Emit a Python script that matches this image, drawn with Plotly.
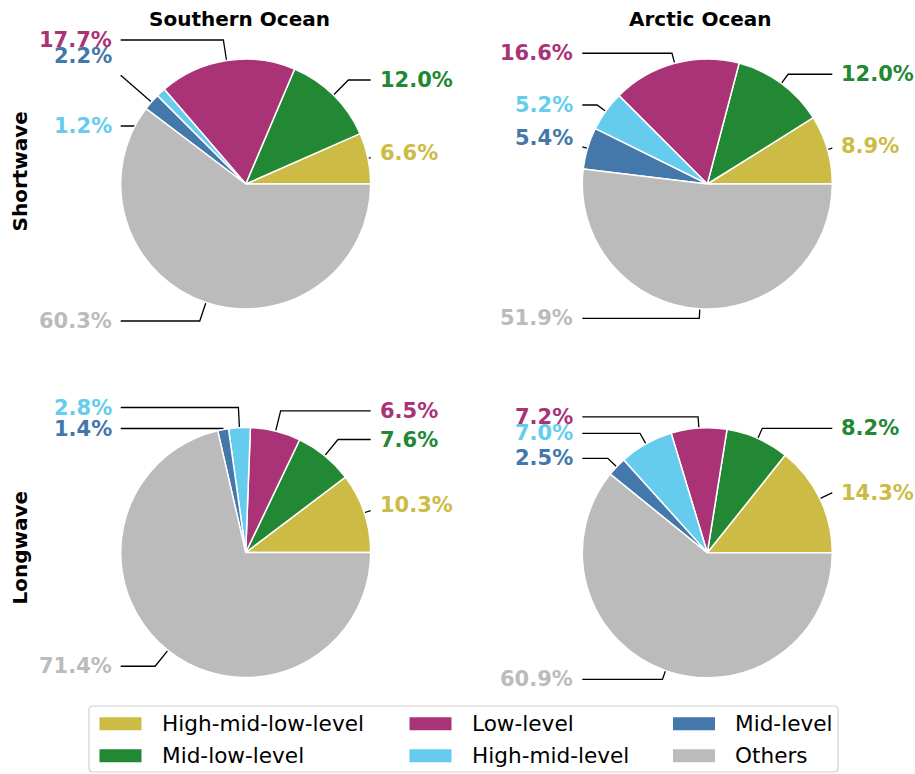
import math
import plotly.graph_objects as go

# ---------------- data ----------------
categories = ["High-mid-low-level", "Mid-low-level", "Low-level",
              "High-mid-level", "Mid-level", "Others"]
col_titles = ["Southern Ocean", "Arctic Ocean"]
row_titles = ["Shortwave", "Longwave"]

so_shortwave = [6.6, 12.0, 17.7, 1.2, 2.2, 60.3]
ao_shortwave = [8.9, 12.0, 16.6, 5.2, 5.4, 51.9]
so_longwave = [10.3, 7.6, 6.5, 2.8, 1.4, 71.4]
ao_longwave = [14.3, 8.2, 7.2, 7.0, 2.5, 60.9]

# ---------------- style / layout ----------------
colors = ["#CCBB44", "#228833", "#AA3377", "#66CCEE", "#4477AA", "#BBBBBB"]
W, H = 915, 774
R = 125.0
FONT = "DejaVu Sans"

panels = [
    # values, center (px), label heights (fraction of radius, up positive)
    dict(vals=so_shortwave, c=(245.7, 184.0),
         ly=[0.248, 0.832, 1.152, 0.464, 1.024, -1.096]),
    dict(vals=ao_shortwave, c=(707.3, 184.0),
         ly=[0.304, 0.878, 1.046, 0.632, 0.368, -1.075]),
    dict(vals=so_longwave, c=(245.7, 552.5),
         ly=[0.378, 0.904, 1.133, 1.160, 0.992, -0.910]),
    dict(vals=ao_longwave, c=(707.3, 552.8),
         ly=[0.480, 0.996, 1.088, 0.956, 0.756, -1.012]),
]

fig = go.Figure()
annotations = []
shapes = []

for p in panels:
    cx, cy = p["c"]
    vals = p["vals"]
    total = sum(vals)
    # plotly's counterclockwise pies put the first slice clockwise of `rotation`
    first_deg = 360.0 * vals[0] / total
    fig.add_trace(go.Pie(
        labels=categories, values=vals, sort=False,
        direction="counterclockwise", rotation=90 - first_deg,
        marker=dict(colors=colors, line=dict(color="white", width=1.5)),
        textinfo="none", hoverinfo="label+percent", showlegend=False,
        domain=dict(x=[(cx - R) / W, (cx + R) / W],
                    y=[1 - (cy + R) / H, 1 - (cy - R) / H]),
    ))
    cum = 0.0
    lx, lyy = [], []
    for i, v in enumerate(vals):
        mid = (cum + v / 2) / total * 2 * math.pi
        cum += v
        ca, sa = math.cos(mid), math.sin(mid)
        side = 1 if ca >= 0 else -1
        Px, Py = cx + R * ca, cy - R * sa
        Ly = cy - p["ly"][i] * R
        Sx = cx + side * R
        if abs(sa) > 1e-6:
            t = (Ly - Py) / (-sa)
            Cx = Px + t * ca
        else:
            Cx = Px
        if side * (Cx - Sx) > 0:
            # corner hidden behind the label: clip the radial segment at x = Sx
            f = (Sx - Cx) / (Px - Cx) if abs(Px - Cx) > 1e-9 else 0
            ys = Ly + f * (Py - Ly)
            lx += [Sx, Px, None]
            lyy += [ys, Py, None]
        else:
            lx += [Sx, Cx, Px, None]
            lyy += [Ly, Ly, Py, None]
        annotations.append(dict(
            x=Sx + side * 7.0, y=Ly, xref="x", yref="y",
            text="<b>%.1f%%</b>" % v,
            showarrow=False, xanchor="left" if side > 0 else "right",
            yanchor="middle",
            font=dict(family=FONT, size=21, color=colors[i]),
        ))
    fig.add_trace(go.Scatter(
        x=lx, y=lyy, mode="lines", line=dict(color="black", width=1.3),
        hoverinfo="skip", showlegend=False, xaxis="x", yaxis="y"))

# column titles
for x, t in zip([239.0, 700.0], col_titles):
    annotations.append(dict(x=x, y=18.5, xref="x", yref="y", text="<b>%s</b>" % t,
                            showarrow=False, xanchor="center", yanchor="middle",
                            font=dict(family=FONT, size=20, color="black")))
# row titles
for y, t in zip([172.0, 548.0], row_titles):
    annotations.append(dict(x=19.5, y=y, xref="x", yref="y", text="<b>%s</b>" % t,
                            showarrow=False, textangle=-90, xanchor="center",
                            yanchor="middle",
                            font=dict(family=FONT, size=20, color="black")))

# legend (drawn manually: 3 columns, column-major)
shapes.append(dict(type="path", xref="x", yref="y",
                   path="M 93,706 L 834,706 Q 838,706 838,710 L 838,768 Q 838,772 834,772 "
                        "L 93,772 Q 89,772 89,768 L 89,710 Q 89,706 93,706 Z",
                   line=dict(color="#d0d0d0", width=1.2), fillcolor="white", layer="above"))
leg_cols_x = [99.5, 409.5, 673.0]
leg_rows_y = [723.7, 755.8]
for k, cat in enumerate(categories):
    cxl = leg_cols_x[k // 2]
    ryl = leg_rows_y[k % 2]
    shapes.append(dict(type="rect", xref="x", yref="y",
                       x0=cxl, x1=cxl + 42, y0=ryl - 6.5, y1=ryl + 6.5,
                       fillcolor=colors[k], line=dict(width=0), layer="above"))
    annotations.append(dict(x=cxl + 60, y=ryl, xref="x", yref="y", text=cat,
                            showarrow=False, xanchor="left", yanchor="middle",
                            font=dict(family=FONT, size=21.6, color="black")))

fig.update_layout(
    width=W, height=H, margin=dict(l=0, r=0, t=0, b=0),
    paper_bgcolor="white", plot_bgcolor="white",
    xaxis=dict(range=[0, W], visible=False, domain=[0, 1], fixedrange=True),
    yaxis=dict(range=[H, 0], visible=False, domain=[0, 1], fixedrange=True),
    annotations=annotations, shapes=shapes, showlegend=False,
)

fig.write_html(
    "out.html",
    config={"displayModeBar": False},
    post_script="document.body.style.margin='0';document.body.style.overflow='hidden';",
)
